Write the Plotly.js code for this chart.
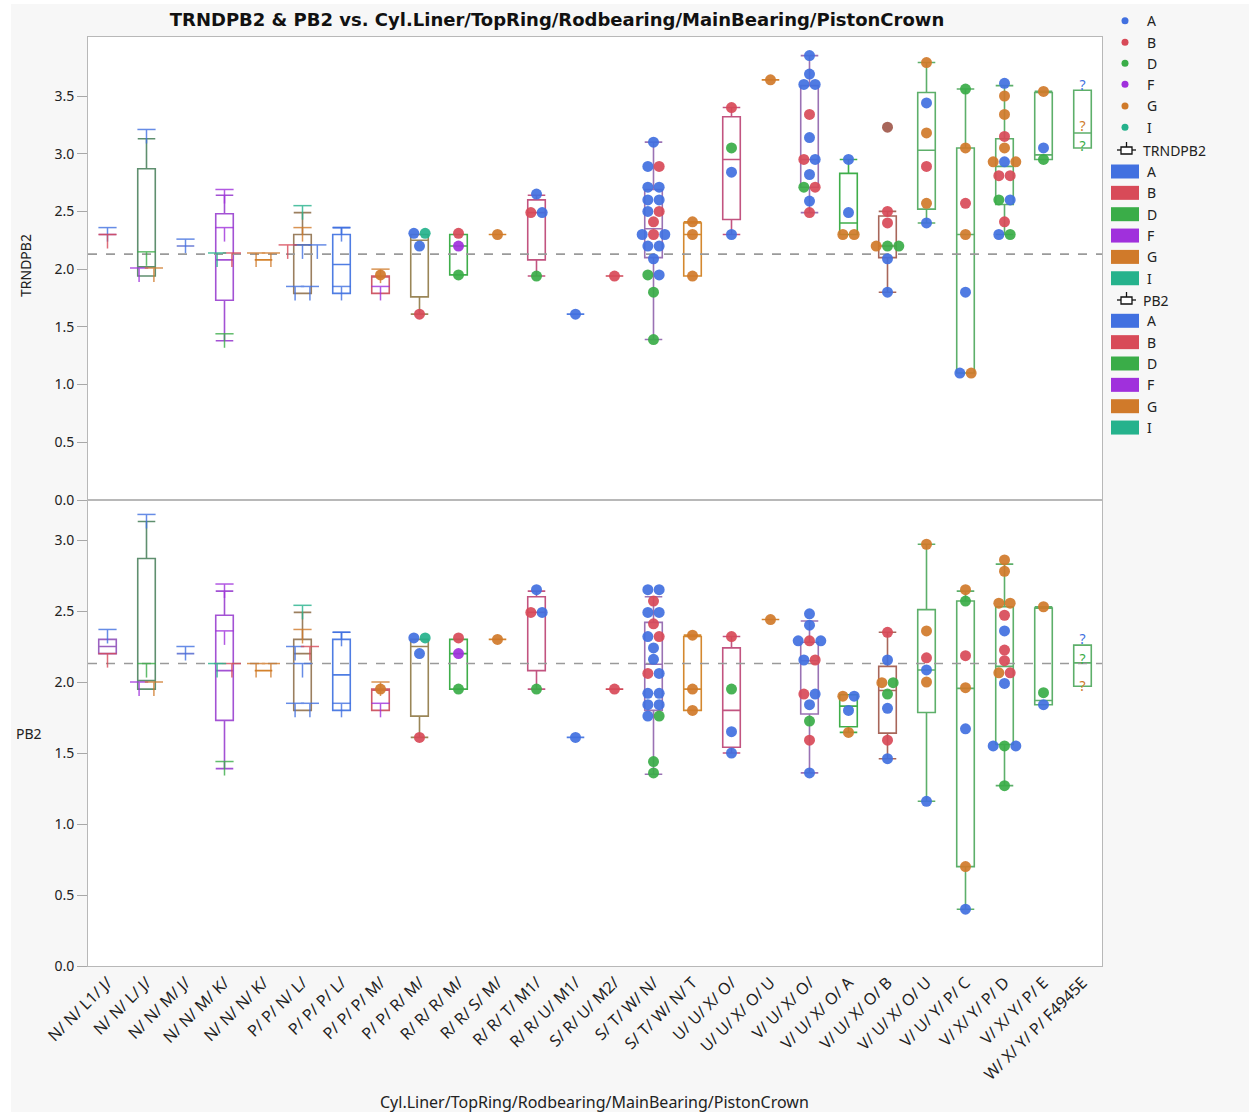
<!DOCTYPE html>
<html><head><meta charset="utf-8">
<script src="https://cdn.plot.ly/plotly-3.0.1.min.js"></script>
<style>html,body{margin:0;padding:0;background:#f7f7f7}</style>
</head><body><div id="chart" style="width:1249px;height:1112px"></div>
<script>
// ---------------- DATA ----------------
const categories = ["N/ N/ L1/ J/","N/ N/ L/ J/","N/ N/ M/ J/","N/ N/ M/ K/","N/ N/ N/ K/","P/ P/ N/ L/","P/ P/ P/ L/","P/ P/ P/ M/","P/ P/ R/ M/","R/ R/ R/ M/","R/ R/ S/ M/","R/ R/ T/ M1/","R/ R/ U/ M1/","S/ R/ U/ M2/","S/ T/ W/ N/","S/ T/ W/ N/ T","U/ U/ X/ O/","U/ U/ X/ O/ U","V/ U/ X/ O/","V/ U/ X/ O/ A","V/ U/ X/ O/ B","V/ U/ X/ O/ U","V/ U/ Y/ P/ C","V/ X/ Y/ P/ D","V/ X/ Y/ P/ E","W/ X/ Y/ P/ F4945E"];
const groups = ["A","B","D","F","G","I"];
const grandMean = 2.13;

// TRNDPB2 box statistics per category
const trnQ1  = [2.30,1.94,2.20,1.73,2.08,1.79,1.79,1.79,1.76,1.95,2.30,2.08,1.61,1.94,2.10,1.94,2.43,3.64,2.71,2.30,2.10,2.52,1.10,2.56,2.95,3.05];
const trnMed = [2.30,2.02,2.20,2.08,2.08,2.21,2.04,1.94,2.25,2.20,2.30,2.49,1.61,1.94,2.35,2.30,2.95,3.64,2.95,2.40,2.20,3.03,2.30,2.89,2.99,3.18];
const trnQ3  = [2.30,2.87,2.20,2.48,2.08,2.30,2.30,1.94,2.30,2.30,2.30,2.60,1.61,1.94,2.69,2.40,3.32,3.64,3.59,2.83,2.46,3.53,3.05,3.13,3.53,3.55];
const trnLo  = [2.30,1.94,2.20,1.38,2.08,1.79,1.79,1.79,1.61,1.95,2.30,1.94,1.61,1.94,1.39,1.94,2.30,3.64,2.49,2.30,1.80,2.40,1.10,2.30,2.95,3.05];
const trnHi  = [2.30,3.13,2.20,2.64,2.08,2.49,2.36,1.94,2.30,2.30,2.30,2.64,1.61,1.94,3.10,2.41,3.40,3.64,3.85,2.95,2.50,3.79,3.56,3.59,3.54,3.55];

// PB2 box statistics per category
const pbQ1  = [2.20,1.95,2.20,1.73,2.08,1.80,1.80,1.80,1.76,1.95,2.30,2.08,1.61,1.95,1.80,1.80,1.54,2.44,1.775,1.685,1.64,1.785,0.70,1.56,1.84,1.97];
const pbMed = [2.25,2.01,2.20,2.08,2.08,2.20,2.05,1.95,2.25,2.20,2.30,2.49,1.61,1.95,2.125,1.95,1.80,2.44,2.15,1.83,1.94,2.085,1.955,2.11,1.87,2.135];
const pbQ3  = [2.30,2.87,2.20,2.47,2.08,2.30,2.30,1.95,2.30,2.30,2.30,2.60,1.61,1.95,2.42,2.32,2.24,2.44,2.28,1.91,2.11,2.51,2.57,2.53,2.52,2.26];
const pbLo  = [2.20,1.95,2.20,1.39,2.08,1.80,1.80,1.80,1.61,1.95,2.30,1.95,1.61,1.95,1.35,1.80,1.50,2.44,1.36,1.645,1.46,1.16,0.40,1.27,1.84,1.97];
const pbHi  = [2.30,3.13,2.20,2.64,2.08,2.49,2.35,1.95,2.30,2.30,2.30,2.64,1.61,1.95,2.60,2.33,2.32,2.44,2.43,1.91,2.35,2.97,2.64,2.83,2.53,2.26];

// points: [category index, group, value]
const trnPoints = [
 [7,"G",1.95],
 [8,"A",2.31],[8,"I",2.31],[8,"A",2.20],[8,"B",1.61],
 [9,"B",2.31],[9,"F",2.20],[9,"D",1.95],
 [10,"G",2.30],
 [11,"A",2.65],[11,"B",2.49],[11,"A",2.49],[11,"D",1.94],
 [12,"A",1.61],
 [13,"B",1.94],
 [14,"A",3.10],[14,"A",2.89],[14,"B",2.89],[14,"A",2.71],[14,"A",2.71],[14,"A",2.60],[14,"A",2.60],[14,"A",2.50],[14,"B",2.50],[14,"B",2.41],[14,"A",2.30],[14,"B",2.30],[14,"A",2.30],[14,"A",2.20],[14,"A",2.20],[14,"A",2.09],[14,"D",1.95],[14,"A",1.95],[14,"D",1.80],[14,"D",1.39],
 [15,"G",2.41],[15,"G",2.30],[15,"G",1.94],
 [16,"B",3.40],[16,"D",3.05],[16,"A",2.84],[16,"A",2.30],
 [17,"G",3.64],
 [18,"A",3.85],[18,"A",3.69],[18,"A",3.60],[18,"A",3.60],[18,"B",3.34],[18,"A",3.14],[18,"B",2.95],[18,"A",2.95],[18,"A",2.82],[18,"D",2.71],[18,"B",2.71],[18,"A",2.59],[18,"B",2.49],
 [19,"A",2.95],[19,"A",2.49],[19,"G",2.30],[19,"G",2.30],
 [20,"B",2.50],[20,"B",2.40],[20,"G",2.20],[20,"D",2.20],[20,"D",2.20],[20,"A",2.09],[20,"A",1.80],
 [21,"G",3.79],[21,"A",3.44],[21,"G",3.18],[21,"B",2.89],[21,"G",2.57],[21,"A",2.40],
 [22,"D",3.56],[22,"G",3.05],[22,"B",2.57],[22,"G",2.30],[22,"A",1.80],[22,"A",1.10],[22,"G",1.10],
 [23,"A",3.61],[23,"G",3.50],[23,"G",3.34],[23,"B",3.15],[23,"G",3.05],[23,"G",2.93],[23,"A",2.93],[23,"G",2.93],[23,"B",2.81],[23,"B",2.81],[23,"D",2.60],[23,"A",2.60],[23,"B",2.41],[23,"A",2.30],[23,"D",2.30],
 [24,"G",3.54],[24,"A",3.05],[24,"D",2.95]
];
const pbPoints = [
 [7,"G",1.95],
 [8,"A",2.31],[8,"I",2.31],[8,"A",2.20],[8,"B",1.61],
 [9,"B",2.31],[9,"F",2.20],[9,"D",1.95],
 [10,"G",2.30],
 [11,"A",2.65],[11,"B",2.49],[11,"A",2.49],[11,"D",1.95],
 [12,"A",1.61],
 [13,"B",1.95],
 [14,"A",2.65],[14,"A",2.65],[14,"B",2.57],[14,"A",2.49],[14,"A",2.49],[14,"B",2.41],[14,"A",2.32],[14,"B",2.32],[14,"A",2.24],[14,"A",2.16],[14,"B",2.06],[14,"A",2.06],[14,"A",1.92],[14,"A",1.92],[14,"A",1.84],[14,"A",1.84],[14,"A",1.76],[14,"D",1.76],[14,"D",1.44],[14,"D",1.36],
 [15,"G",2.33],[15,"G",1.95],[15,"G",1.80],
 [16,"B",2.32],[16,"D",1.95],[16,"A",1.65],[16,"A",1.50],
 [17,"G",2.44],
 [18,"A",2.48],[18,"A",2.40],[18,"A",2.29],[18,"B",2.29],[18,"A",2.29],[18,"A",2.155],[18,"B",2.155],[18,"B",1.915],[18,"A",1.915],[18,"A",1.84],[18,"D",1.725],[18,"B",1.59],[18,"A",1.36],
 [19,"G",1.90],[19,"A",1.90],[19,"A",1.80],[19,"G",1.645],
 [20,"B",2.35],[20,"A",2.155],[20,"G",1.995],[20,"D",1.995],[20,"D",1.915],[20,"A",1.815],[20,"B",1.59],[20,"A",1.46],
 [21,"G",2.97],[21,"G",2.36],[21,"B",2.17],[21,"A",2.085],[21,"G",2.00],[21,"A",1.16],
 [22,"G",2.65],[22,"D",2.57],[22,"B",2.185],[22,"G",1.96],[22,"A",1.67],[22,"G",0.70],[22,"A",0.40],
 [23,"G",2.86],[23,"G",2.78],[23,"G",2.555],[23,"G",2.555],[23,"B",2.47],[23,"A",2.36],[23,"B",2.225],[23,"B",2.15],[23,"G",2.065],[23,"B",2.065],[23,"A",1.99],[23,"A",1.55],[23,"D",1.55],[23,"A",1.55],[23,"D",1.27],
 [24,"G",2.53],[24,"D",1.925],[24,"A",1.84]
];

// hidden-row group ranges drawn as "T" marks: [category index, group, value]
const trnTees = [
 [0,"A",2.36],[0,"B",2.30],
 [1,"A",3.21],[1,"D",2.15],[1,"F",2.01],[1,"G",2.01],
 [2,"A",2.26],
 [3,"F",2.69],[3,"F",2.36],[3,"I",2.14],[3,"B",2.14],[3,"D",1.44],
 [4,"G",2.14],[4,"G",2.14],
 [5,"I",2.55],[5,"G",2.36],[5,"B",2.21],[5,"A",2.21],[5,"A",2.21],[5,"A",1.85],[5,"A",1.85],
 [6,"A",2.36],[6,"A",1.85],
 [7,"G",2.00],[7,"F",1.85]
];
const pbTees = [
 [0,"A",2.37],[0,"B",2.20],
 [1,"A",3.18],[1,"D",2.13],[1,"F",2.00],[1,"G",2.00],
 [2,"A",2.25],
 [3,"F",2.69],[3,"F",2.36],[3,"I",2.13],[3,"B",2.13],[3,"D",1.44],
 [4,"G",2.13],[4,"G",2.13],
 [5,"I",2.54],[5,"G",2.37],[5,"A",2.25],[5,"B",2.25],[5,"A",2.13],[5,"A",1.85],[5,"A",1.85],
 [6,"A",2.35],[6,"A",1.85],
 [7,"G",2.00],[7,"F",1.85]
];

// rows with unknown marker ("?")
const trnQuestion = [[25,"A",3.58],[25,"G",3.23],[25,"D",3.05]];
const pbQuestion  = [[25,"A",2.29],[25,"D",2.15],[25,"G",1.96]];

// box-plot outliers
const trnOutliers = [[20,3.23]];

// ---------------- STYLE ----------------
const groupColors = {A:"#4170e0",B:"#d84a58",D:"#3aad48",F:"#a030dc",G:"#d07a2a",I:"#25b28c"};
const boxColors = ["#9b62c0","#5f8f6f","#6d7fd6","#a352d4","#d4822c","#9b7f5f","#4f7de3","#cf5a68","#9a8658","#3fae4a",
                   "#d4822c","#c25480","#4f7de3","#d04858","#9a72b4","#d4882f","#c25480","#d4822c","#9a72b4","#3fae4a",
                   "#a8665a","#5daf6a","#5daf6a","#5daf6a","#5daf6a","#5daf6a"];
const FONT = "Noto Sans, Open Sans, sans-serif";
const W = 1249, H = 1112, ML = 88, MR = 147, MT = 37, MB = 146;
const plotW = W - ML - MR, plotH = H - MT - MB;
const splitY = 500; // pixel boundary between panels
const bottomDomTop = (H - MB - splitY) / plotH;
const topRange = [0, (splitY - MT) / 115.43];
const botRange = [0, (H - MB - splitY) / 142];
const topPxPerUnit = (splitY - MT) / topRange[1];
const botPxPerUnit = (H - MB - splitY) / botRange[1];

function spread(list, spacing, tol) {
  const out = [];
  let i = 0;
  while (i < list.length) {
    let j = i + 1;
    while (j < list.length && list[j][0] === list[i][0] && Math.abs(list[j][2] - list[i][2]) <= tol) j++;
    const k = j - i;
    for (let m = i; m < j; m++) {
      out.push({cat: list[m][0], grp: list[m][1], val: list[m][2], x: list[m][0] + (m - i - (k - 1) / 2) * spacing});
    }
    i = j;
  }
  return out;
}

const traces = [];
function addPanel(xa, ya, q1, med, q3, lo, hi, pts, tees, qm, outs, pxPerUnit) {
  // grand mean line
  traces.push({type:"scatter", mode:"lines", x:[-0.5, categories.length - 0.5], y:[grandMean, grandMean],
    xaxis:xa, yaxis:ya, line:{color:"#9a9a9a", width:1.6, dash:"dash"}, hoverinfo:"skip", showlegend:false});
  // boxes
  categories.forEach((c, i) => {
    traces.push({type:"box", x:[i], q1:[q1[i]], median:[med[i]], q3:[q3[i]], lowerfence:[lo[i]], upperfence:[hi[i]],
      xaxis:xa, yaxis:ya, width:0.45, whiskerwidth:1, boxpoints:false,
      line:{color:boxColors[i], width:1.6}, fillcolor:"rgba(0,0,0,0)", hoverinfo:"skip", showlegend:false});
  });
  // T marks
  const tp = spread(tees, 0.38, 0.015);
  const stem = 14 / pxPerUnit;
  groups.forEach(g => {
    const s = tp.filter(p => p.grp === g);
    if (!s.length) return;
    traces.push({type:"scatter", mode:"markers", x:s.map(p => p.x), y:s.map(p => p.val), xaxis:xa, yaxis:ya,
      marker:{symbol:"line-ew", size:13, line:{color:groupColors[g], width:1.5}},
      error_y:{type:"data", symmetric:false, array:s.map(() => 0), arrayminus:s.map(() => stem), width:0, thickness:1.5, color:groupColors[g]},
      opacity:0.8, hoverinfo:"skip", showlegend:false});
  });
  // outliers
  if (outs.length) {
    traces.push({type:"scatter", mode:"markers", x:outs.map(o => o[0]), y:outs.map(o => o[1]), xaxis:xa, yaxis:ya,
      marker:{size:11, color:outs.map(o => boxColors[o[0]])}, hoverinfo:"skip", showlegend:false});
  }
  // points
  const pp = spread(pts, 0.29, 0.015);
  groups.forEach(g => {
    const s = pp.filter(p => p.grp === g);
    if (!s.length) return;
    traces.push({type:"scatter", mode:"markers", x:s.map(p => p.x), y:s.map(p => p.val), xaxis:xa, yaxis:ya,
      marker:{size:11, color:groupColors[g], opacity:0.92}, hoverinfo:"skip", showlegend:false});
  });
  // question marks
  groups.forEach(g => {
    const s = qm.filter(p => p[1] === g);
    if (!s.length) return;
    traces.push({type:"scatter", mode:"text", x:s.map(p => p[0]), y:s.map(p => p[2]), text:s.map(() => "?"), xaxis:xa, yaxis:ya,
      textposition:"middle center", textfont:{family:FONT, size:14, color:groupColors[g]}, hoverinfo:"skip", showlegend:false});
  });
}
addPanel("x2","y2", trnQ1, trnMed, trnQ3, trnLo, trnHi, trnPoints, trnTees, trnQuestion, trnOutliers, topPxPerUnit);
addPanel("x","y", pbQ1, pbMed, pbQ3, pbLo, pbHi, pbPoints, pbTees, pbQuestion, [], botPxPerUnit);

// ---------------- LAYOUT ----------------
const px = x => (x - ML) / plotW;
const py = y => (H - MB - y) / plotH;
const annotations = [], shapes = [];
shapes.push({type:"rect", xref:"paper", yref:"paper", x0:px(0), x1:px(11), y0:py(H), y1:py(0), fillcolor:"#ffffff", line:{width:0}, layer:"below"});
shapes.push({type:"rect", xref:"paper", yref:"paper", x0:px(0), x1:px(W), y0:py(4), y1:py(0), fillcolor:"#ffffff", line:{width:0}, layer:"below"});

const dotRows = [20.7, 42.3, 63.3, 84.3, 106, 127.3];
groups.forEach((g, i) => {
  const y = dotRows[i];
  shapes.push({type:"circle", xref:"paper", yref:"paper", x0:px(1121.5), x1:px(1128.5), y0:py(y + 3.5), y1:py(y - 3.5), fillcolor:groupColors[g], line:{width:0}});
  annotations.push({xref:"paper", yref:"paper", x:px(1145), y:py(y), text:g, showarrow:false, xanchor:"left", yanchor:"middle", font:{family:FONT, size:14, color:"#222"}});
});
function legendBlock(title, headerY, firstRow) {
  shapes.push({type:"rect", xref:"paper", yref:"paper", x0:px(1121), x1:px(1132), y0:py(headerY + 4), y1:py(headerY - 3), line:{color:"#111", width:1.3}, fillcolor:"#fff"});
  shapes.push({type:"line", xref:"paper", yref:"paper", x0:px(1117), x1:px(1121), y0:py(headerY), y1:py(headerY), line:{color:"#111", width:1.3}});
  shapes.push({type:"line", xref:"paper", yref:"paper", x0:px(1132), x1:px(1136), y0:py(headerY), y1:py(headerY), line:{color:"#111", width:1.3}});
  shapes.push({type:"line", xref:"paper", yref:"paper", x0:px(1126.5), x1:px(1126.5), y0:py(headerY - 3), y1:py(headerY - 8), line:{color:"#111", width:1.3}});
  annotations.push({xref:"paper", yref:"paper", x:px(1141), y:py(headerY), text:title, showarrow:false, xanchor:"left", yanchor:"middle", font:{family:FONT, size:14, color:"#222"}});
  groups.forEach((g, i) => {
    const y = firstRow + i * 21.35;
    shapes.push({type:"rect", xref:"paper", yref:"paper", x0:px(1111), x1:px(1139), y0:py(y + 7), y1:py(y - 7), fillcolor:groupColors[g], line:{width:0}});
    annotations.push({xref:"paper", yref:"paper", x:px(1145), y:py(y), text:g, showarrow:false, xanchor:"left", yanchor:"middle", font:{family:FONT, size:14, color:"#222"}});
  });
}
legendBlock("TRNDPB2", 150, 171.5);
legendBlock("PB2", 300, 320.8);

// axis titles
annotations.push({xref:"paper", yref:"paper", x:px(25), y:py(266), text:"TRNDPB2", textangle:-90, showarrow:false, xanchor:"center", yanchor:"middle", font:{family:FONT, size:14, color:"#222"}});
annotations.push({xref:"paper", yref:"paper", x:px(29), y:py(733), text:"PB2", showarrow:false, xanchor:"center", yanchor:"middle", font:{family:FONT, size:14, color:"#222"}});
annotations.push({xref:"paper", yref:"paper", x:px(594), y:py(1102), text:"Cyl.Liner/TopRing/Rodbearing/MainBearing/PistonCrown", showarrow:false, xanchor:"center", yanchor:"middle", font:{family:FONT, size:16, color:"#222"}});

const yTickTop = [0,0.5,1,1.5,2,2.5,3,3.5];
const yTickBot = [0,0.5,1,1.5,2,2.5,3];
const axisLine = "#b8b8b8";
const baseY = {showline:true, mirror:true, linecolor:axisLine, linewidth:1, zeroline:false, showgrid:false, ticks:"outside", ticklen:10, tickcolor:"#a8a8a8",
  tickmode:"array", tickformat:".1f", tickfont:{family:FONT, size:14, color:"#222"}, fixedrange:true};
const layout = {
  width:W, height:H, margin:{l:ML, r:MR, t:MT, b:MB},
  paper_bgcolor:"#f7f7f7", plot_bgcolor:"#ffffff", boxmode:"overlay", showlegend:false,
  font:{family:FONT, color:"#222"},
  title:{text:"<b>TRNDPB2 & PB2 vs. Cyl.Liner/TopRing/Rodbearing/MainBearing/PistonCrown</b>", x:557/W, xref:"container", xanchor:"center",
    y:1 - 20/H, yref:"container", yanchor:"middle", font:{family:"DejaVu Sans, Noto Sans, sans-serif", size:18, color:"#111"}},
  xaxis:{domain:[0,1], anchor:"y", range:[-0.5, categories.length - 0.5], tickmode:"array", tickvals:categories.map((c, i) => i), ticktext:categories,
    tickangle:-45, ticks:"", showline:true, mirror:true, linecolor:axisLine, linewidth:1, showgrid:false, zeroline:false,
    tickfont:{family:FONT, size:16, color:"#222"}, fixedrange:true},
  xaxis2:{domain:[0,1], anchor:"y2", matches:"x", range:[-0.5, categories.length - 0.5], showticklabels:false, ticks:"", showline:true, mirror:true,
    linecolor:axisLine, linewidth:1, showgrid:false, zeroline:false, fixedrange:true},
  yaxis:Object.assign({}, baseY, {domain:[0, bottomDomTop], range:botRange, tickvals:yTickBot}),
  yaxis2:Object.assign({}, baseY, {domain:[bottomDomTop, 1], range:topRange, tickvals:yTickTop}),
  annotations:annotations, shapes:shapes
};
Plotly.newPlot("chart", traces, layout, {staticPlot:true, displayModeBar:false});
</script>
</body></html>
